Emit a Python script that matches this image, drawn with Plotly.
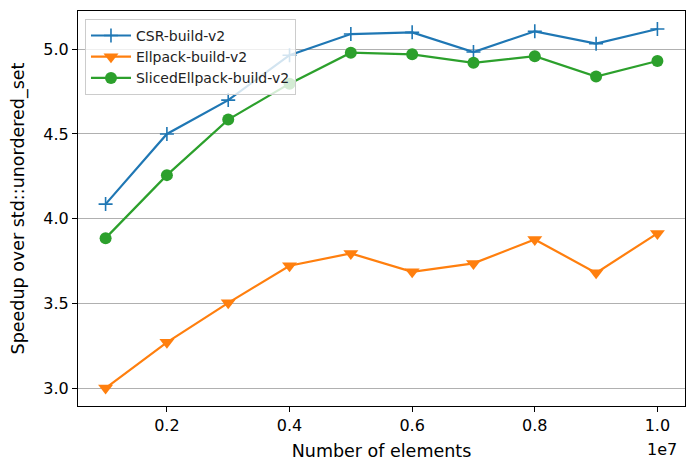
import plotly.graph_objects as go

num_elements = [1000000, 2000000, 3000000, 4000000, 5000000, 6000000, 7000000, 8000000, 9000000, 10000000]
csr_build_v2 = [4.086, 4.50, 4.70, 4.965, 5.09, 5.10, 4.984, 5.106, 5.033, 5.12]
ellpack_build_v2 = [3.00, 3.27, 3.503, 3.722, 3.795, 3.686, 3.736, 3.877, 3.68, 3.913]
sliced_ellpack_build_v2 = [3.885, 4.257, 4.585, 4.797, 4.98, 4.97, 4.92, 4.959, 4.839, 4.931]

x_tickvals = [2000000, 4000000, 6000000, 8000000, 10000000]
x_ticktext = ["0.2", "0.4", "0.6", "0.8", "1.0"]
y_tickvals = [3.0, 3.5, 4.0, 4.5, 5.0]
y_ticktext = ["3.0", "3.5", "4.0", "4.5", "5.0"]

FONT = "DejaVu Sans"

fig = go.Figure()
fig.add_trace(go.Scatter(
    x=num_elements, y=csr_build_v2, name="CSR-build-v2", mode="lines+markers",
    line=dict(color="#1f77b4", width=2.2),
    marker=dict(symbol="cross-thin", size=10, line=dict(color="#1f77b4", width=1.6)),
))
fig.add_trace(go.Scatter(
    x=num_elements, y=ellpack_build_v2, name="Ellpack-build-v2", mode="lines+markers",
    line=dict(color="#ff7f0e", width=2.2),
    marker=dict(symbol="triangle-down", size=13, color="#ff7f0e"),
))
fig.add_trace(go.Scatter(
    x=num_elements, y=sliced_ellpack_build_v2, name="SlicedEllpack-build-v2", mode="lines+markers",
    line=dict(color="#2ca02c", width=2.2),
    marker=dict(symbol="circle", size=12, color="#2ca02c"),
))

fig.update_layout(
    width=686, height=461,
    margin=dict(l=78, r=1, t=11, b=55),
    paper_bgcolor="white", plot_bgcolor="white",
    font=dict(family=FONT, color="black", size=16),
    showlegend=True,
    legend=dict(
        x=0.0115, y=0.98, xanchor="left", yanchor="top",
        bgcolor="rgba(255,255,255,0.8)", bordercolor="#cccccc", borderwidth=1,
        font=dict(family=FONT, size=14, color="#222222"),
        itemwidth=40,
    ),
    xaxis=dict(
        range=[550000, 10450000],
        tickvals=x_tickvals, ticktext=x_ticktext,
        showgrid=False, zeroline=False,
        showline=True, mirror=True, linecolor="black", linewidth=1,
        ticks="outside", ticklen=5, tickcolor="black", tickwidth=1,
        tickfont=dict(size=16),
        title=dict(text="Number of elements", font=dict(size=17.5), standoff=10),
    ),
    yaxis=dict(
        range=[2.894, 5.226],
        tickvals=y_tickvals, ticktext=y_ticktext,
        showgrid=True, gridcolor="#b0b0b0", gridwidth=1, zeroline=False,
        showline=True, mirror=True, linecolor="black", linewidth=1,
        ticks="outside", ticklen=5, tickcolor="black", tickwidth=1,
        tickfont=dict(size=16),
        title=dict(text="Speedup over std::unordered_set", font=dict(size=17.5), standoff=14),
    ),
)

fig.add_annotation(
    text="1e7", xref="paper", yref="paper",
    x=(679 - 78) / 607, y=-(450 - 406) / 395,
    xanchor="right", yanchor="middle", showarrow=False,
    font=dict(family=FONT, size=16, color="black"),
)

fig.write_html("out.html")
